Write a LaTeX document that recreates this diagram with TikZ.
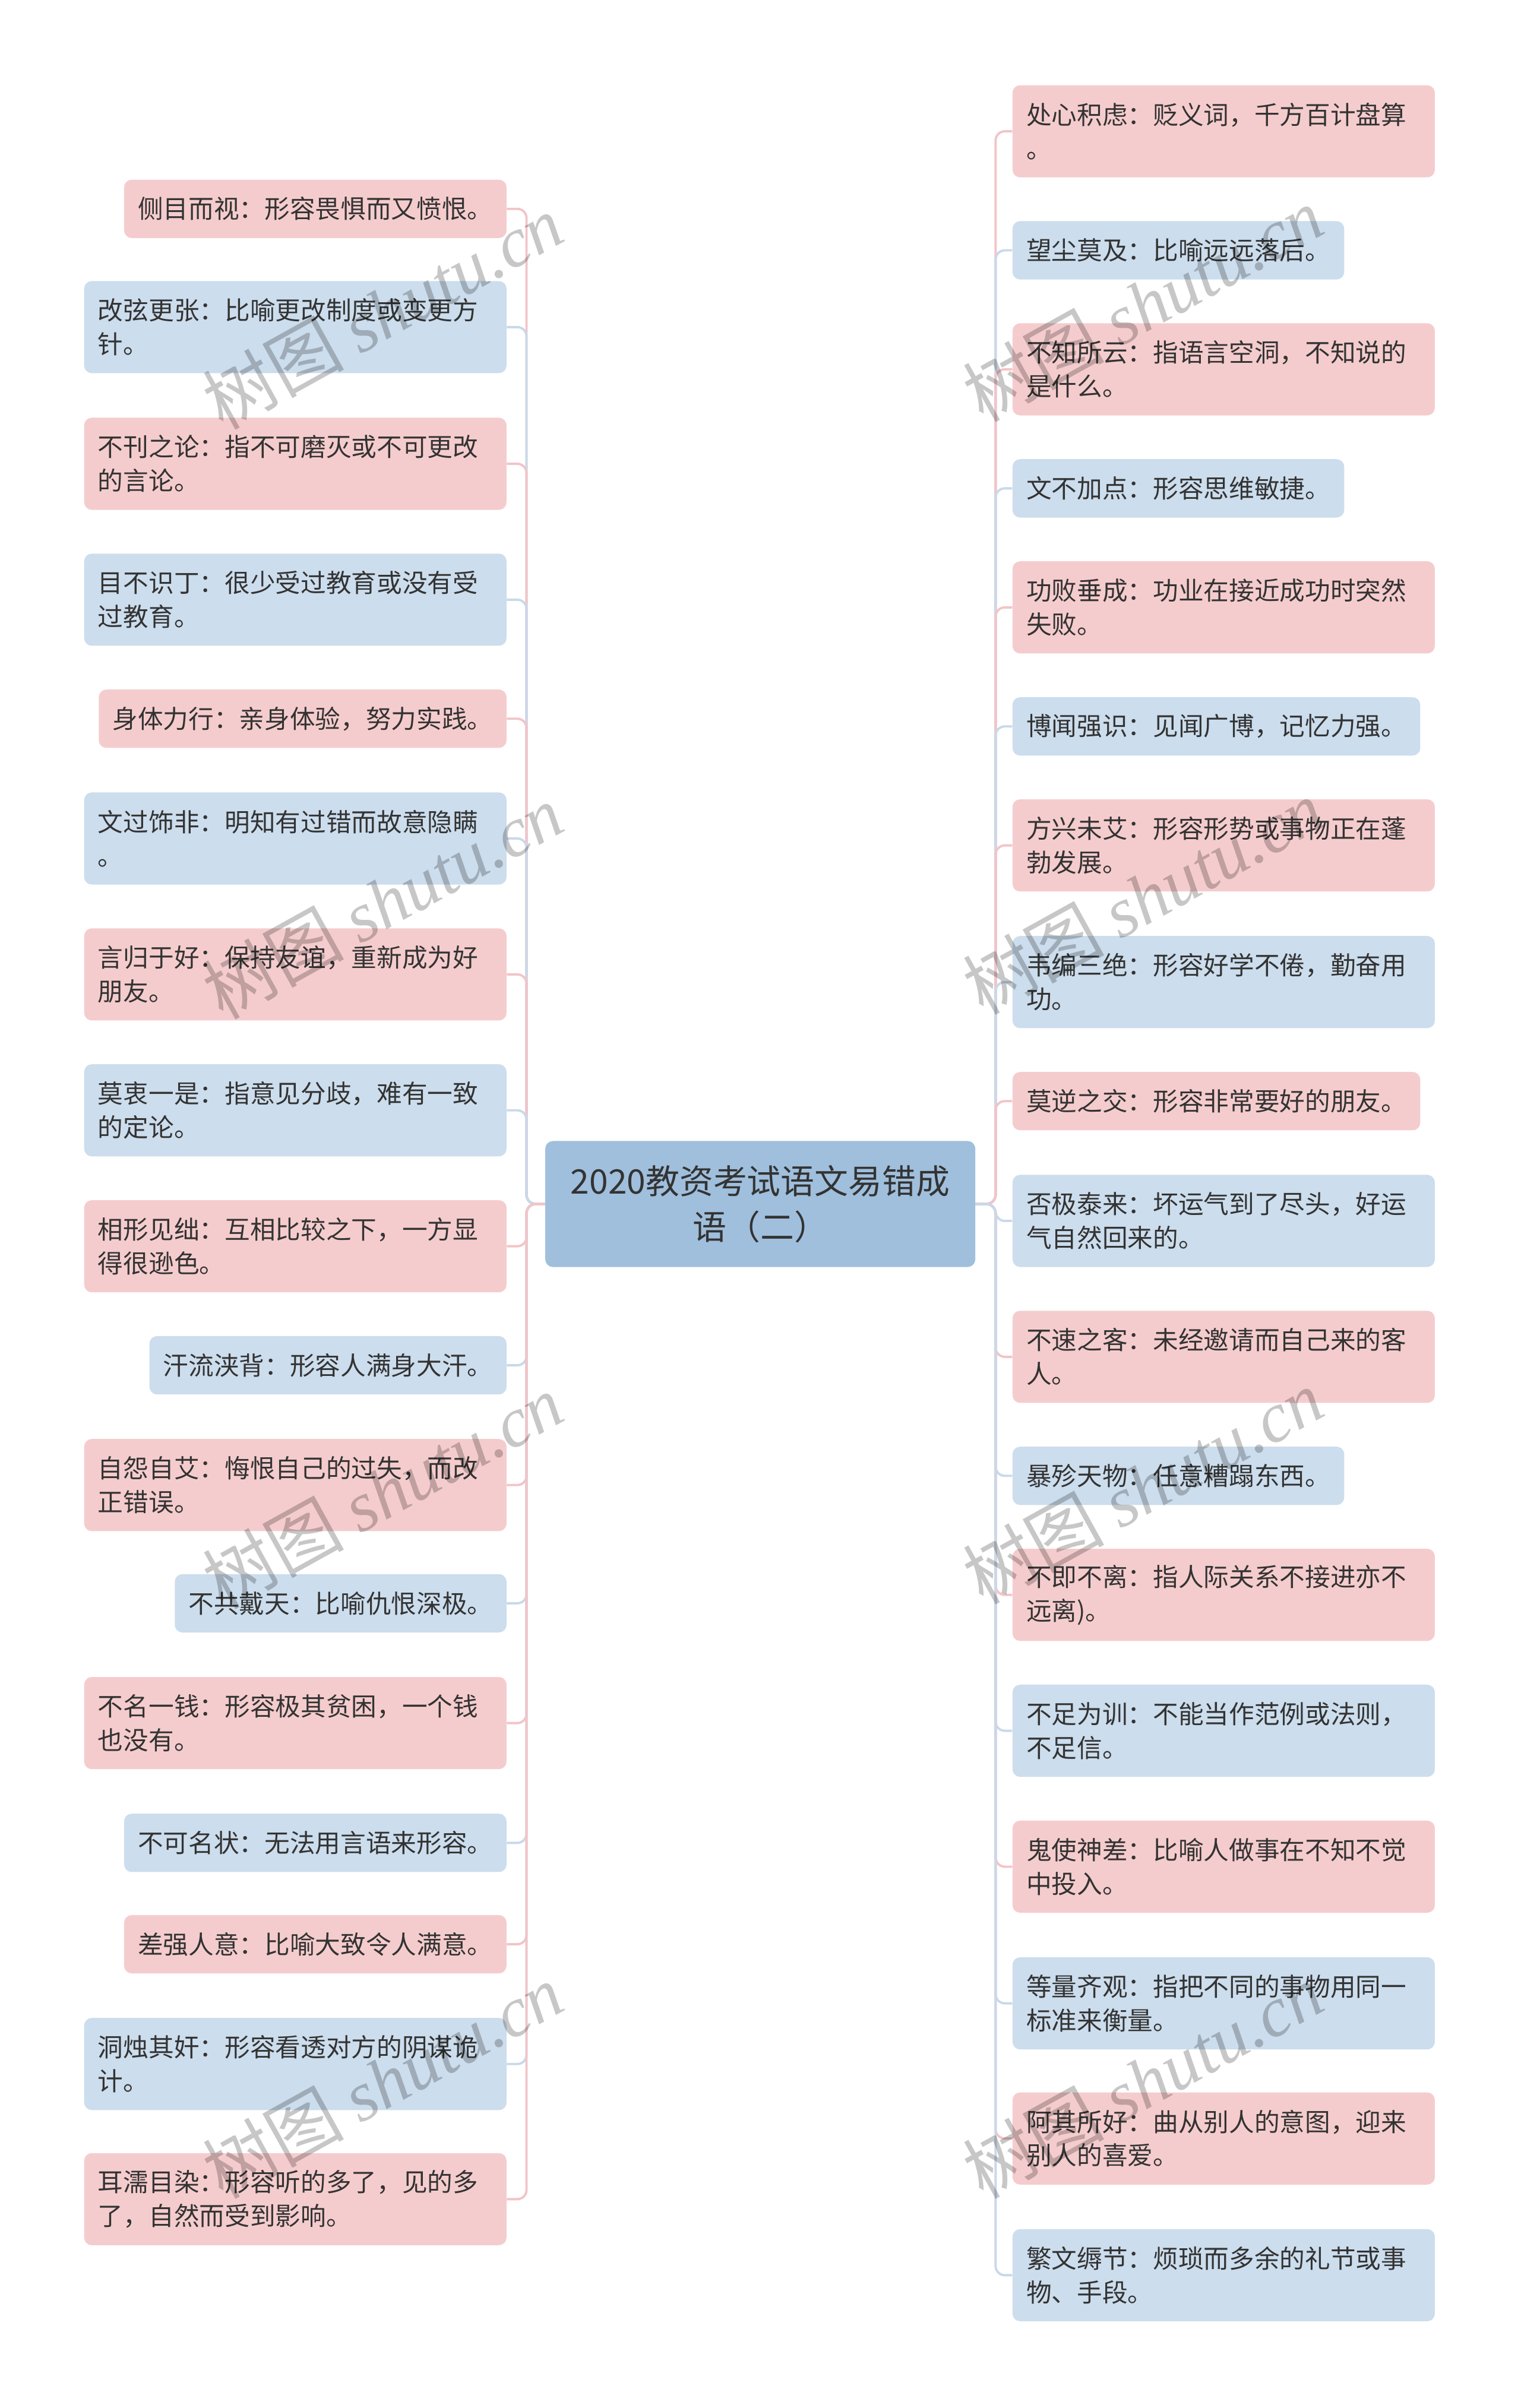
\documentclass[tikz,border=0pt]{standalone}
\usepackage{fontspec}
\setmainfont{Noto Sans CJK SC}
\newfontfamily\wmlatin{Liberation Serif}
\usetikzlibrary{positioning}

\definecolor{pinkbox}{HTML}{F5CCCD}
\definecolor{bluebox}{HTML}{CCDDED}
\definecolor{rootbox}{HTML}{9FBFDC}
\definecolor{inktext}{HTML}{333333}
\definecolor{pinkline}{HTML}{F3C4C7}
\definecolor{blueline}{HTML}{C8D9EA}

\begin{document}
\begin{tikzpicture}[x=1pt,y=-1pt,
  leaf/.style={rounded corners=5pt, inner xsep=9pt, inner ysep=0pt, minimum height=38pt,
    text=inktext, font=\fontsize{16.5}{22}\selectfont, align=left},
  wide/.style={leaf, text width=257pt, minimum height=60pt},
  pk/.style={fill=pinkbox}, bl/.style={fill=bluebox},
  lk/.style={line width=1.5pt, rounded corners=6pt},
  wmark/.style={rotate=29, text=black, text opacity=0.22, font=\fontsize{46}{46}\selectfont, inner sep=0pt}]
\fill[white] (0,0) rectangle (990,1568);
\useasboundingbox (0,0) rectangle (990,1568);

\node[rounded corners=5pt, fill=rootbox, text=inktext, minimum width=280pt, minimum height=82pt,
  align=center, font=\fontsize{22}{30}\selectfont] (root) at (495,784) {2020教资考试语文易错成\\语（二）};

% left side
\node[leaf,pk,anchor=east] (L1) at (330,136) {侧目而视：形容畏惧而又愤恨。};
\node[wide,bl,anchor=east] (L2) at (330,213) {改弦更张：比喻更改制度或变更方\\针。};
\node[wide,pk,anchor=east] (L3) at (330,302) {不刊之论：指不可磨灭或不可更改\\的言论。};
\node[wide,bl,anchor=east] (L4) at (330,390.5) {目不识丁：很少受过教育或没有受\\过教育。};
\node[leaf,pk,anchor=east] (L5) at (330,468) {身体力行：亲身体验，努力实践。};
\node[wide,bl,anchor=east] (L6) at (330,546) {文过饰非：明知有过错而故意隐瞒\\。};
\node[wide,pk,anchor=east] (L7) at (330,634.5) {言归于好：保持友谊，重新成为好\\朋友。};
\node[wide,bl,anchor=east] (L8) at (330,723) {莫衷一是：指意见分歧，难有一致\\的定论。};
\node[wide,pk,anchor=east] (L9) at (330,811.5) {相形见绌：互相比较之下，一方显\\得很逊色。};
\node[leaf,bl,anchor=east] (L10) at (330,889) {汗流浃背：形容人满身大汗。};
\node[wide,pk,anchor=east] (L11) at (330,967) {自怨自艾：悔恨自己的过失，而改\\正错误。};
\node[leaf,bl,anchor=east] (L12) at (330,1044) {不共戴天：比喻仇恨深极。};
\node[wide,pk,anchor=east] (L13) at (330,1122) {不名一钱：形容极其贫困，一个钱\\也没有。};
\node[leaf,bl,anchor=east] (L14) at (330,1200) {不可名状：无法用言语来形容。};
\node[leaf,pk,anchor=east] (L15) at (330,1266) {差强人意：比喻大致令人满意。};
\node[wide,bl,anchor=east] (L16) at (330,1344) {洞烛其奸：形容看透对方的阴谋诡\\计。};
\node[wide,pk,anchor=east] (L17) at (330,1432) {耳濡目染：形容听的多了，见的多\\了，自然而受到影响。};

% right side
\node[wide,pk,anchor=west] (R1) at (659,85.5) {处心积虑：贬义词，千方百计盘算\\。};
\node[leaf,bl,anchor=west] (R2) at (659,163) {望尘莫及：比喻远远落后。};
\node[wide,pk,anchor=west] (R3) at (659,240.5) {不知所云：指语言空洞，不知说的\\是什么。};
\node[leaf,bl,anchor=west] (R4) at (659,318) {文不加点：形容思维敏捷。};
\node[wide,pk,anchor=west] (R5) at (659,395.5) {功败垂成：功业在接近成功时突然\\失败。};
\node[leaf,bl,anchor=west] (R6) at (659,473) {博闻强识：见闻广博，记忆力强。};
\node[wide,pk,anchor=west] (R7) at (659,550.5) {方兴未艾：形容形势或事物正在蓬\\勃发展。};
\node[wide,bl,anchor=west] (R8) at (659,639.5) {韦编三绝：形容好学不倦，勤奋用\\功。};
\node[leaf,pk,anchor=west] (R9) at (659,717) {莫逆之交：形容非常要好的朋友。};
\node[wide,bl,anchor=west] (R10) at (659,795) {否极泰来：坏运气到了尽头，好运\\气自然回来的。};
\node[wide,pk,anchor=west] (R11) at (659,883.5) {不速之客：未经邀请而自己来的客\\人。};
\node[leaf,bl,anchor=west] (R12) at (659,961) {暴殄天物：任意糟蹋东西。};
\node[wide,pk,anchor=west] (R13) at (659,1038.5) {不即不离：指人际关系不接进亦不\\远离)。};
\node[wide,bl,anchor=west] (R14) at (659,1127) {不足为训：不能当作范例或法则，\\不足信。};
\node[wide,pk,anchor=west] (R15) at (659,1215.5) {鬼使神差：比喻人做事在不知不觉\\中投入。};
\node[wide,bl,anchor=west] (R16) at (659,1304.5) {等量齐观：指把不同的事物用同一\\标准来衡量。};
\node[wide,pk,anchor=west] (R17) at (659,1392.5) {阿其所好：曲从别人的意图，迎来\\别人的喜爱。};
\node[wide,bl,anchor=west] (R18) at (659,1481.5) {繁文缛节：烦琐而多余的礼节或事\\物、手段。};

% connectors
\draw[lk,pinkline] (root.west) -- ++(-12,0) |- (L1.east);
\draw[lk,blueline] (root.west) -- ++(-12,0) |- (L2.east);
\draw[lk,pinkline] (root.west) -- ++(-12,0) |- (L3.east);
\draw[lk,blueline] (root.west) -- ++(-12,0) |- (L4.east);
\draw[lk,pinkline] (root.west) -- ++(-12,0) |- (L5.east);
\draw[lk,blueline] (root.west) -- ++(-12,0) |- (L6.east);
\draw[lk,pinkline] (root.west) -- ++(-12,0) |- (L7.east);
\draw[lk,blueline] (root.west) -- ++(-12,0) |- (L8.east);
\draw[lk,pinkline] (root.west) -- ++(-12,0) |- (L9.east);
\draw[lk,blueline] (root.west) -- ++(-12,0) |- (L10.east);
\draw[lk,pinkline] (root.west) -- ++(-12,0) |- (L11.east);
\draw[lk,blueline] (root.west) -- ++(-12,0) |- (L12.east);
\draw[lk,pinkline] (root.west) -- ++(-12,0) |- (L13.east);
\draw[lk,blueline] (root.west) -- ++(-12,0) |- (L14.east);
\draw[lk,pinkline] (root.west) -- ++(-12,0) |- (L15.east);
\draw[lk,blueline] (root.west) -- ++(-12,0) |- (L16.east);
\draw[lk,pinkline] (root.west) -- ++(-12,0) |- (L17.east);
\draw[lk,pinkline] (root.east) -- ++(13,0) |- (R1.west);
\draw[lk,blueline] (root.east) -- ++(13,0) |- (R2.west);
\draw[lk,pinkline] (root.east) -- ++(13,0) |- (R3.west);
\draw[lk,blueline] (root.east) -- ++(13,0) |- (R4.west);
\draw[lk,pinkline] (root.east) -- ++(13,0) |- (R5.west);
\draw[lk,blueline] (root.east) -- ++(13,0) |- (R6.west);
\draw[lk,pinkline] (root.east) -- ++(13,0) |- (R7.west);
\draw[lk,blueline] (root.east) -- ++(13,0) |- (R8.west);
\draw[lk,pinkline] (root.east) -- ++(13,0) |- (R9.west);
\draw[lk,blueline] (root.east) -- ++(13,0) |- (R10.west);
\draw[lk,pinkline] (root.east) -- ++(13,0) |- (R11.west);
\draw[lk,blueline] (root.east) -- ++(13,0) |- (R12.west);
\draw[lk,pinkline] (root.east) -- ++(13,0) |- (R13.west);
\draw[lk,blueline] (root.east) -- ++(13,0) |- (R14.west);
\draw[lk,pinkline] (root.east) -- ++(13,0) |- (R15.west);
\draw[lk,blueline] (root.east) -- ++(13,0) |- (R16.west);
\draw[lk,pinkline] (root.east) -- ++(13,0) |- (R17.west);
\draw[lk,blueline] (root.east) -- ++(13,0) |- (R18.west);

% watermarks
\node[wmark] (wm1) at (249,203) {树图 {\wmlatin\itshape shutu.cn}};
\node[wmark] (wm2) at (249,587) {树图 {\wmlatin\itshape shutu.cn}};
\node[wmark] (wm3) at (249,971) {树图 {\wmlatin\itshape shutu.cn}};
\node[wmark] (wm4) at (249,1355) {树图 {\wmlatin\itshape shutu.cn}};
\node[wmark] (wm5) at (744,198) {树图 {\wmlatin\itshape shutu.cn}};
\node[wmark] (wm6) at (744,584) {树图 {\wmlatin\itshape shutu.cn}};
\node[wmark] (wm7) at (744,968) {树图 {\wmlatin\itshape shutu.cn}};
\node[wmark] (wm8) at (744,1355) {树图 {\wmlatin\itshape shutu.cn}};
\end{tikzpicture}
\end{document}
